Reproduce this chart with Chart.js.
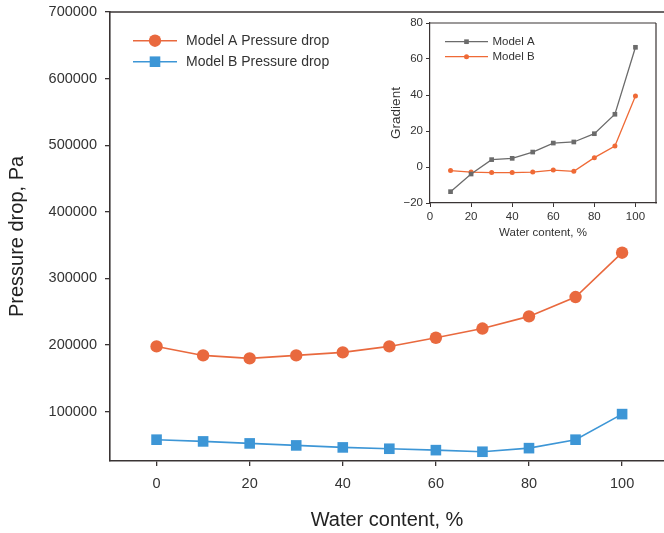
<!DOCTYPE html>
<html>
<head>
<meta charset="utf-8">
<script src="https://cdn.jsdelivr.net/npm/chart.js@4"></script>
<style>
html, body { margin: 0; padding: 0; background: #fff; overflow: hidden; }
#wrap { position: relative; width: 664px; height: 533px; }
#mainChart { position: absolute; left: 0; top: 0; }
#insetChart { position: absolute; left: 372px; top: 16px; }
</style>
</head>
<body>
<div id="wrap">
  <canvas id="mainChart" width="664" height="533"></canvas>
  <canvas id="insetChart" width="292" height="232"></canvas>
</div>
<script>
// DATA

const waterContent = [0, 10, 20, 30, 40, 50, 60, 70, 80, 90, 100];
const modelAPressure = [198000, 184500, 180000, 184500, 189000, 198000, 211000, 224800, 243100, 272100, 338700];
const modelBPressure = [58000, 55400, 52400, 49400, 46400, 44400, 42300, 39900, 45300, 58000, 96400];

const gradientWater = [10, 20, 30, 40, 50, 60, 70, 80, 90, 100];
const modelAGradient = [-13.7, -3.9, 4.1, 4.8, 8.3, 13.3, 13.9, 18.5, 29.3, 66.5];
const modelBGradient = [-2.0, -2.8, -3.1, -3.1, -2.8, -1.7, -2.4, 5.2, 11.7, 39.4];

const mainXTicks = [0, 20, 40, 60, 80, 100];
const mainYTicks = [100000, 200000, 300000, 400000, 500000, 600000, 700000];
const insetXTicks = [0, 20, 40, 60, 80, 100];
const insetYTicks = [-20, 0, 20, 40, 60, 80];

Chart.defaults.font.family = "'Liberation Sans', Arial, sans-serif";
Chart.defaults.color = '#333';

const axisColor = '#3a3434';

function points(xs, ys) {
    return xs.map((x, i) => ({ x: x, y: ys[i] }));
}

// fixed axis sizes, no extra label padding
function fixHeight(h) {
    return s => { s.height = h; s.paddingLeft = 0; s.paddingRight = 0; };
}
function fixWidth(w) {
    return s => { s.width = w; s.paddingTop = 0; s.paddingBottom = 0; };
}

// top / right frame lines
const frameLines = {
    id: 'frameLines',
    afterDraw(chart, args, opts) {
        const { ctx, chartArea: a } = chart;
        ctx.save();
        ctx.strokeStyle = opts.color;
        ctx.lineWidth = opts.width;
        ctx.beginPath();
        if (opts.top) { ctx.moveTo(a.left, a.top); ctx.lineTo(a.right, a.top); }
        if (opts.right) { ctx.moveTo(a.right, a.top); ctx.lineTo(a.right, a.bottom + 0.5); }
        ctx.stroke();
        ctx.restore();
    }
};

// legend with line + marker
const lineLegend = {
    id: 'lineLegend',
    afterDatasetsDraw(chart, args, opts) {
        const { ctx, chartArea: a } = chart;
        chart.data.datasets.forEach((ds, i) => {
            const y = a.top + opts.top + i * opts.spacing;
            const x0 = a.left + opts.left;
            const x1 = x0 + opts.lineLength;
            const xm = (x0 + x1) / 2;
            ctx.save();
            ctx.strokeStyle = ds.borderColor;
            ctx.lineWidth = ds.borderWidth;
            ctx.beginPath();
            ctx.moveTo(x0, y);
            ctx.lineTo(x1, y);
            ctx.stroke();
            ctx.fillStyle = ds.pointBackgroundColor;
            ctx.beginPath();
            if (ds.pointStyle === 'rect') {
                const s = ds.pointRadius * Math.SQRT1_2;
                ctx.rect(xm - s, y - s, 2 * s, 2 * s);
            } else {
                ctx.arc(xm, y, ds.pointRadius, 0, Math.PI * 2);
            }
            ctx.fill();
            ctx.fillStyle = '#333';
            ctx.font = opts.fontSize + "px 'Liberation Sans', Arial, sans-serif";
            ctx.textBaseline = 'middle';
            ctx.fillText(ds.label, x1 + opts.gap, y + 0.5);
            ctx.restore();
        });
    }
};

// MAIN CHART

new Chart(document.getElementById('mainChart'), {
    type: 'line',
    data: {
        datasets: [{
            label: 'Model A Pressure drop',
            data: points(waterContent, modelAPressure),
            borderColor: '#E9693E',
            backgroundColor: '#E9693E',
            pointBackgroundColor: '#E9693E',
            pointBorderColor: '#E9693E',
            borderWidth: 1.6,
            pointStyle: 'circle',
            pointRadius: 6.2,
            pointBorderWidth: 0
        }, {
            label: 'Model B Pressure drop',
            data: points(waterContent, modelBPressure),
            borderColor: '#3D96D6',
            backgroundColor: '#3D96D6',
            pointBackgroundColor: '#3D96D6',
            pointBorderColor: '#3D96D6',
            borderWidth: 1.6,
            pointStyle: 'rect',
            pointRadius: 7.5,
            pointBorderWidth: 0
        }]
    },
    options: {
        responsive: false,
        animation: false,
        events: [],
        layout: { autoPadding: false, padding: { top: 12, right: 0, left: 0, bottom: 0 } },
        elements: { line: { tension: 0 } },
        plugins: {
            legend: { display: false },
            tooltip: { enabled: false },
            frameLines: { top: true, right: false, color: axisColor, width: 1.6 },
            lineLegend: { left: 23, top: 28.7, spacing: 21, lineLength: 44, gap: 9, fontSize: 14 }
        },
        scales: {
            x: {
                type: 'linear',
                min: -10,
                max: 109,
                afterBuildTicks: s => { s.ticks = mainXTicks.map(v => ({ value: v })); },
                afterFit: fixHeight(72),
                grid: { drawOnChartArea: false, tickLength: 5, color: axisColor, lineWidth: 1.3 },
                border: { color: axisColor, width: 1.6 },
                ticks: { padding: 9, maxRotation: 0, font: { size: 14.5 }, color: '#333' },
                title: { display: true, text: 'Water content, %', color: '#222', font: { size: 20 }, padding: { top: 0, bottom: 1 } }
            },
            y: {
                type: 'linear',
                min: 26000,
                max: 700000,
                afterBuildTicks: s => { s.ticks = mainYTicks.map(v => ({ value: v })); },
                afterFit: fixWidth(110),
                grid: { drawOnChartArea: false, tickLength: 5, color: axisColor, lineWidth: 1.3 },
                border: { color: axisColor, width: 1.6 },
                ticks: { padding: 8, font: { size: 14.5 }, color: '#333', callback: v => String(v) },
                title: { display: true, text: 'Pressure drop, Pa', color: '#222', font: { size: 20 }, padding: { top: 5, bottom: 0 } }
            }
        }
    },
    plugins: [frameLines, lineLegend]
});

// INSET CHART

new Chart(document.getElementById('insetChart'), {
    type: 'line',
    data: {
        datasets: [{
            label: 'Model A',
            data: points(gradientWater, modelAGradient),
            borderColor: '#6B6B6B',
            backgroundColor: '#6B6B6B',
            pointBackgroundColor: '#6B6B6B',
            pointBorderColor: '#6B6B6B',
            borderWidth: 1.3,
            pointStyle: 'rect',
            pointRadius: 3.3,
            pointBorderWidth: 0
        }, {
            label: 'Model B',
            data: points(gradientWater, modelBGradient),
            borderColor: '#EF6A36',
            backgroundColor: '#EF6A36',
            pointBackgroundColor: '#EF6A36',
            pointBorderColor: '#EF6A36',
            borderWidth: 1.3,
            pointStyle: 'circle',
            pointRadius: 2.5,
            pointBorderWidth: 0
        }]
    },
    options: {
        responsive: false,
        animation: false,
        events: [],
        layout: { autoPadding: false, padding: { top: 7, right: 8, left: 0, bottom: 0 } },
        elements: { line: { tension: 0 } },
        plugins: {
            legend: { display: false },
            tooltip: { enabled: false },
            frameLines: { top: true, right: true, color: axisColor, width: 1.2 },
            lineLegend: { left: 15, top: 18.7, spacing: 15, lineLength: 43, gap: 4.5, fontSize: 11.5 }
        },
        scales: {
            x: {
                type: 'linear',
                min: 0,
                max: 110,
                afterBuildTicks: s => { s.ticks = insetXTicks.map(v => ({ value: v })); },
                afterFit: fixHeight(45),
                grid: { drawOnChartArea: false, tickLength: 4, color: axisColor, lineWidth: 1 },
                border: { color: axisColor, width: 1.2 },
                ticks: { padding: 3, maxRotation: 0, font: { size: 11.5 }, color: '#333' },
                title: { display: true, text: 'Water content, %', color: '#333', font: { size: 11.5 }, padding: { top: 0, bottom: 8 } }
            },
            y: {
                type: 'linear',
                min: -20,
                max: 80,
                afterBuildTicks: s => { s.ticks = insetYTicks.map(v => ({ value: v })); },
                afterFit: fixWidth(58),
                grid: { drawOnChartArea: false, tickLength: 4, color: axisColor, lineWidth: 1 },
                border: { color: axisColor, width: 1.2 },
                ticks: { padding: 3, font: { size: 11.5 }, color: '#333', callback: v => String(v).replace('-', '\u2212') },
                title: { display: true, text: 'Gradient', color: '#333', font: { size: 13.5 }, padding: { top: 16, bottom: 0 } }
            }
        }
    },
    plugins: [frameLines, lineLegend]
});
</script>
</body>
</html>
